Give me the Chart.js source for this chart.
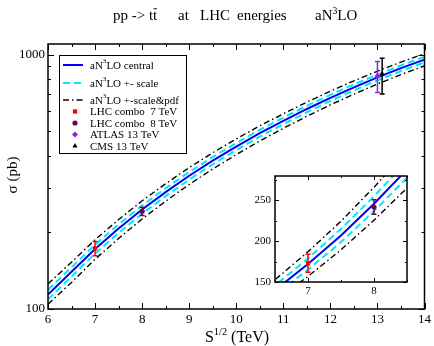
<!DOCTYPE html>
<html><head><meta charset="utf-8">
<script src="https://cdn.jsdelivr.net/npm/chart.js@4.4.1/dist/chart.umd.min.js"></script>
<style>
html,body{margin:0;padding:0;background:#fff;}
#wrap{position:relative;width:434px;height:346px;overflow:hidden;}
canvas{position:absolute;}
#main{left:0;top:0;}
#inset{left:240px;top:165px;}
</style></head>
<body><div id="wrap"><canvas id="main" width="434" height="346"></canvas><canvas id="inset" width="175" height="135"></canvas></div>
<script>
// ---------------- data ----------------
const energies  = [6,6.5,7,7.5,8,8.5,9,9.5,10,10.5,11,11.5,12,12.5,13,13.5,14];
const central   = [114,140,172,207,246,288,334,383,435,491,549,611,676,743,813,884,955];
const scaleUp   = [119.0,145.8,178.9,215.0,255.1,298.2,345.4,395.6,448.9,506.2,565.5,628.7,694.9,763.1,834.1,906.5,978.9];
const scaleDown = [109.1,134.2,165.1,199.0,236.9,277.8,322.6,370.4,421.1,475.8,532.5,593.3,657.1,722.9,791.9,861.5,931.1];
const pdfUp     = [125.5,152.8,187.1,224.6,266.2,310.8,359.4,411.2,465.9,524.6,585.2,650.1,717.9,787.6,860.2,933.9,1007.5];
const pdfDown   = [104.5,127.2,156.9,189.4,225.8,265.2,308.6,354.8,404.1,457.4,512.8,571.9,634.1,698.4,765.8,834.1,902.5];

const measLabels = ['LHC combo  7 TeV','LHC combo  8 TeV','ATLAS 13 TeV','CMS 13 TeV'];
const measX      = [7, 8, 13, 13.1];
const measY      = [173, 242, 824, 838];
const measLow    = [162, 233, 709, 700];
const measHigh   = [184, 251, 938, 966];

const lineLabels = ['central','+- scale','+-scale&pdf'];

const mainXMajor = [6,7,8,9,10,11,12,13,14];
const mainXMinor = [6.5,7.5,8.5,9.5,10.5,11.5,12.5,13.5];
const mainYMajor = [100,1000];
const mainYMinor = [200,300,400,500,600,700,800,900];
const insetXMajor = [7,8];
const insetXMinor = [6.5,7.5,8.5];
const insetYMajor = [150,200,250];
const insetYMinor = [175,225,275];

// ---------------- styles ----------------
const SERIF = '"Liberation Serif","DejaVu Serif",serif';
const measColors = ['#ff0000','#6a0a45','#9a1ed8','#000000'];
const measStyles = ['rect','circle','rectRot','triangle'];
const measRadius = [3,2.6,3,3];
const lineStyle = {
  central:{color:'#0000ff',width:2,dash:[]},
  scale:{color:'#00e8f0',width:2,dash:[7,4]},
  pdf:{color:'#000000',width:1.4,dash:[6,3,1.5,3]}
};

function pts(ys){ return energies.map((x,i)=>({x:x,y:ys[i]})); }

function buildDatasets(){
  const ds = [];
  for(let k=0;k<measX.length;k++){
    ds.push({type:'scatter',label:measLabels[k],data:[{x:measX[k],y:measY[k]}],
      pointStyle:measStyles[k],pointRadius:measRadius[k],backgroundColor:measColors[k],
      borderColor:measColors[k],borderWidth:0,order:0,errLow:measLow[k],errHigh:measHigh[k]});
  }
  const L=(d,s,o)=>({type:'line',data:pts(d),borderColor:s.color,borderWidth:s.width,borderDash:s.dash,
      pointRadius:0,tension:0,fill:false,order:o});
  ds.push(L(central,lineStyle.central,1));
  ds.push(L(scaleUp,lineStyle.scale,2));
  ds.push(L(scaleDown,lineStyle.scale,2));
  ds.push(L(pdfUp,lineStyle.pdf,3));
  ds.push(L(pdfDown,lineStyle.pdf,3));
  return ds;
}

// draw inward ticks + frame
function frameTicks(chart,xMaj,xMin,yMaj,yMin,majL,minL){
  const {ctx,chartArea:a,scales} = chart; const x=scales.x,y=scales.y;
  ctx.save(); ctx.strokeStyle='#000'; ctx.lineWidth=1; ctx.setLineDash([]);
  ctx.beginPath();
  const vx=(v,l)=>{const p=Math.round(x.getPixelForValue(v))+0.5; ctx.moveTo(p,a.bottom);ctx.lineTo(p,a.bottom-l);ctx.moveTo(p,a.top);ctx.lineTo(p,a.top+l);};
  const vy=(v,l)=>{const p=Math.round(y.getPixelForValue(v))+0.5; ctx.moveTo(a.left,p);ctx.lineTo(a.left+l,p);ctx.moveTo(a.right,p);ctx.lineTo(a.right-l,p);};
  xMaj.forEach(v=>vx(v,majL)); xMin.forEach(v=>vx(v,minL));
  yMaj.forEach(v=>vy(v,majL)); yMin.forEach(v=>vy(v,minL));
  ctx.stroke();
  ctx.lineWidth=1.5;
  ctx.strokeRect(a.left,a.top,a.right-a.left,a.bottom-a.top);
  ctx.restore();
}

const errorBarPlugin = {
  id:'errbars',
  beforeDatasetDraw(chart,args){
    const ds = chart.data.datasets[args.index];
    if(ds.errLow===undefined) return;
    const {ctx,chartArea:a,scales} = chart;
    ctx.save(); ctx.beginPath(); ctx.rect(a.left,a.top,a.right-a.left,a.bottom-a.top); ctx.clip();
    const px = scales.x.getPixelForValue(ds.data[0].x);
    const y1 = scales.y.getPixelForValue(ds.errLow), y2 = scales.y.getPixelForValue(ds.errHigh);
    ctx.strokeStyle = ds.borderColor; ctx.lineWidth=1.5; ctx.setLineDash([]);
    ctx.beginPath(); ctx.moveTo(px,y1); ctx.lineTo(px,y2);
    ctx.moveTo(px-2.5,y1); ctx.lineTo(px+2.5,y1); ctx.moveTo(px-2.5,y2); ctx.lineTo(px+2.5,y2);
    ctx.stroke(); ctx.restore();
  }
};

// rich text helper
function richWidth(ctx,parts,fs){
  let w=0; for(const p of parts){ ctx.font=(p.sup?fs*0.65:fs)+'px '+SERIF; w+=ctx.measureText(p.t).width; } return w;
}
function drawRich(ctx,parts,x,y,fs){
  let cx=x;
  for(const p of parts){
    const f = p.sup?fs*0.65:fs;
    ctx.font=f+'px '+SERIF;
    const yy = p.sup? y-fs*0.42 : y;
    ctx.fillText(p.t,cx,yy);
    const w = ctx.measureText(p.t).width;
    if(p.over){ ctx.fillRect(cx+0.5,y-fs*0.78,w-1,1); }
    cx+=w;
  }
  return cx;
}

const decorPlugin = {
  id:'decor',
  afterDraw(chart){
    const {ctx} = chart;
    frameTicks(chart,mainXMajor,mainXMinor,mainYMajor,mainYMinor,6,3);
    ctx.save(); ctx.fillStyle='#000'; ctx.textBaseline='alphabetic'; ctx.textAlign='left';
    // title
    drawRich(ctx,[{t:'pp -> t'},{t:'t',over:true}],113,20,15);
    drawRich(ctx,[{t:'at'}],178,20,15);
    drawRich(ctx,[{t:'LHC'}],200,20,15);
    drawRich(ctx,[{t:'energies'}],237,20,15);
    drawRich(ctx,[{t:'aN'},{t:'3',sup:true},{t:'LO'}],315,20,15);
    // x title
    const xp=[{t:'S'},{t:'1/2',sup:true},{t:' (TeV)'}];
    const w = richWidth(ctx,xp,16);
    drawRich(ctx,xp,237-w/2,342,16);
    // y title
    ctx.save(); ctx.translate(17,175); ctx.rotate(-Math.PI/2);
    ctx.font='15px '+SERIF; ctx.textAlign='center'; ctx.fillText('σ (pb)',0,0);
    ctx.restore();
    // legend
    const bx=59,by=55,bw=127,bh=98;
    ctx.fillStyle='#fff'; ctx.fillRect(bx,by,bw,bh);
    ctx.strokeStyle='#000'; ctx.lineWidth=1; ctx.strokeRect(bx+0.5,by+0.5,bw,bh);
    const rows=[65,83,100,111.5,123,134.5,146];
    const styles=[lineStyle.central,lineStyle.scale,lineStyle.pdf];
    ctx.fillStyle='#000'; ctx.textBaseline='middle';
    for(let i=0;i<3;i++){
      const s=styles[i];
      ctx.strokeStyle=s.color; ctx.lineWidth=s.width; ctx.setLineDash(s.dash);
      ctx.beginPath(); ctx.moveTo(63,rows[i]); ctx.lineTo(83,rows[i]); ctx.stroke();
      ctx.setLineDash([]);
      ctx.fillStyle='#000';
      drawRich(ctx,[{t:'aN'},{t:'3',sup:true},{t:'LO '+lineLabels[i]}],90,rows[i]+1,11);
    }
    for(let k=0;k<measLabels.length;k++){
      const r=rows[3+k];
      ctx.fillStyle=measColors[k]; ctx.strokeStyle=measColors[k];
      Chart.helpers.drawPoint(ctx,{pointStyle:measStyles[k],radius:measRadius[k],borderWidth:0},75,r);
      ctx.fillStyle='#000';
      ctx.font='11px '+SERIF; ctx.fillText(measLabels[k],90,r+1);
    }
    ctx.restore();
  }
};

new Chart(document.getElementById('main'),{
  data:{datasets:buildDatasets()},
  options:{
    responsive:false,animation:false,devicePixelRatio:1,
    layout:{padding:{left:0,right:8,top:44,bottom:0}},
    plugins:{legend:{display:false},title:{display:false},tooltip:{enabled:false}},
    scales:{
      x:{type:'linear',min:6,max:14,
        afterBuildTicks:s=>{s.ticks=mainXMajor.map(v=>({value:v}));},
        afterFit:s=>{s.height=37;},
        grid:{display:false,drawTicks:false},border:{display:false},
        ticks:{color:'#000',font:{family:SERIF,size:13},padding:3,maxRotation:0,autoSkip:false}},
      y:{type:'logarithmic',min:100,max:1100,
        afterBuildTicks:s=>{s.ticks=mainYMajor.map(v=>({value:v}));},
        afterFit:s=>{s.width=48;},
        grid:{display:false,drawTicks:false},border:{display:false},
        ticks:{color:'#000',font:{family:SERIF,size:13},padding:3,autoSkip:false,callback:v=>String(v)}}
    }
  },
  plugins:[errorBarPlugin,decorPlugin]
});

const insetPlugin = {
  id:'insetDecor',
  beforeDatasetsDraw(chart){
    const {ctx,chartArea:a}=chart;
    ctx.save(); ctx.fillStyle='#fff'; ctx.fillRect(a.left,a.top,a.right-a.left,a.bottom-a.top); ctx.restore();
  },
  afterDraw(chart){ frameTicks(chart,insetXMajor,insetXMinor,insetYMajor,insetYMinor,4,2); }
};

new Chart(document.getElementById('inset'),{
  data:{datasets:buildDatasets()},
  options:{
    responsive:false,animation:false,devicePixelRatio:1,
    layout:{padding:{left:0,right:8,top:11,bottom:0}},
    plugins:{legend:{display:false},title:{display:false},tooltip:{enabled:false}},
    scales:{
      x:{type:'linear',min:6.5,max:8.5,
        afterBuildTicks:s=>{s.ticks=insetXMajor.map(v=>({value:v}));},
        afterFit:s=>{s.height=18;},
        grid:{display:false,drawTicks:false},border:{display:false},
        ticks:{color:'#000',font:{family:SERIF,size:11},padding:3,maxRotation:0,autoSkip:false}},
      y:{type:'linear',min:150,max:280,
        afterBuildTicks:s=>{s.ticks=insetYMajor.map(v=>({value:v}));},
        afterFit:s=>{s.width=35;},
        grid:{display:false,drawTicks:false},border:{display:false},
        ticks:{color:'#000',font:{family:SERIF,size:11},padding:4,autoSkip:false}}
    }
  },
  plugins:[insetPlugin,errorBarPlugin]
});
</script>
</body></html>
